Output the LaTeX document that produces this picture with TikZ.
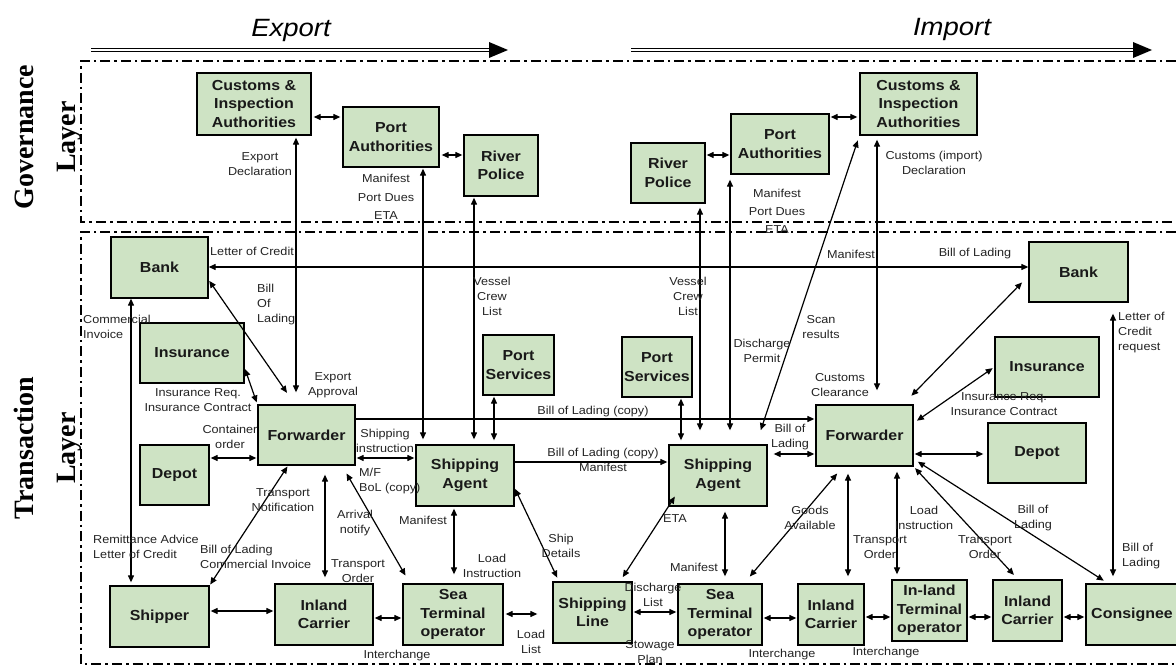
\documentclass[tikz,border=0pt]{standalone}
\usepackage{fontspec}
\newfontfamily\labfont{Liberation Sans}[FakeStretch=1.1]
\newfontfamily\serfont{Liberation Serif}
\usetikzlibrary{arrows.meta}
\definecolor{boxgreen}{RGB}{206,227,196}
\definecolor{labgray}{RGB}{35,35,35}
\begin{document}
\begin{tikzpicture}[x=1pt,y=-1pt,
  box/.style={draw=black, line width=1.3pt, fill=boxgreen, inner sep=0pt, align=center,
    font=\labfont\bfseries\fontsize{14.5}{18.5}\selectfont, text=black!90},
  lab/.style={inner sep=0pt, align=center, font=\labfont\fontsize{11.5}{15}\selectfont, text=labgray},
  labl/.style={lab, anchor=west, align=left},
  con/.style={line width=1.2pt, {Triangle[length=7pt,width=6pt]}-{Triangle[length=7pt,width=6pt]}},
  one/.style={line width=1.2pt, -{Triangle[length=7pt,width=6pt]}},
  frame/.style={line width=2.2pt, dash pattern=on 10pt off 4pt on 2.5pt off 4pt},
  title/.style={inner sep=0pt, font=\labfont\itshape\fontsize{25}{30}\selectfont},
  layer/.style={inner sep=0pt, rotate=90, align=center, font=\serfont\bfseries\fontsize{28}{42}\selectfont},
  flow/.style={line width=0.9pt, double distance=2.6pt, double=white},
]
\useasboundingbox (0,0) rectangle (1176,671);

% ---------- titles ----------
\node[title] (texp) at (291,30) {Export};
\node[title] (timp) at (952,29) {Import};
\coordinate (ea) at (91,50); \coordinate (eb) at (492,50);
\coordinate (ia) at (631,50); \coordinate (ib) at (1136,50);
\draw[flow] (ea) -- (eb);
\fill (489,42) -- (508,50) -- (489,58) -- cycle;
\draw[flow] (ia) -- (ib);
\fill (1133,42) -- (1152,50) -- (1133,58) -- cycle;

% ---------- frames ----------
\coordinate (f1) at (81,61); \coordinate (f2) at (1176,61);
\coordinate (f3) at (81,222); \coordinate (f4) at (1176,222);
\coordinate (f5) at (81,232); \coordinate (f6) at (1176,232);
\coordinate (f7) at (81,664); \coordinate (f8) at (1176,664);
\draw[frame] (f2) -- (f1) -- (f3) -- (f4);
\draw[frame] (f6) -- (f5) -- (f7) -- (f8);

\node[layer] (lgov) at (48,137) {Governance\\Layer};
\node[layer] (ltra) at (48,448) {Transaction\\Layer};

% ---------- governance boxes ----------
\node[box, minimum width=114pt, minimum height=62pt] (ce) at (254,104) {Customs \&\\Inspection\\Authorities};
\node[box, minimum width=96pt, minimum height=60pt] (pae) at (391,137) {Port\\Authorities};
\node[box, minimum width=74pt, minimum height=61pt] (rpe) at (501,165.5) {River\\Police};
\node[box, minimum width=74pt, minimum height=60pt] (rpi) at (668,173) {River\\Police};
\node[box, minimum width=98pt, minimum height=60pt] (pai) at (780,144) {Port\\Authorities};
\node[box, minimum width=117pt, minimum height=62pt] (ci) at (918.5,104) {Customs \&\\Inspection\\Authorities};

% ---------- transaction boxes ----------
\node[box, minimum width=97pt, minimum height=61pt] (be) at (159.5,267.5) {Bank};
\node[box, minimum width=104pt, minimum height=60pt] (ine) at (192,353) {Insurance};
\node[box, minimum width=97pt, minimum height=60pt] (fe) at (306.5,435) {Forwarder};
\node[box, minimum width=69pt, minimum height=60pt] (de) at (174.5,475) {Depot};
\node[box, minimum width=99pt, minimum height=61pt] (sh) at (159.5,616.5) {Shipper};
\node[box, minimum width=98pt, minimum height=61pt] (ice) at (324,614.5) {Inland\\Carrier};
\node[box, minimum width=100pt, minimum height=61pt] (ste) at (453,614.5) {Sea\\Terminal\\operator};
\node[box, minimum width=98pt, minimum height=61pt] (sae) at (465,475.5) {Shipping\\Agent};
\node[box, minimum width=71pt, minimum height=60pt] (pse) at (518.5,365) {Port\\Services};
\node[box, minimum width=79pt, minimum height=61pt] (sl) at (592.5,612.5) {Shipping\\Line};
\node[box, minimum width=70pt, minimum height=60pt] (psi) at (657,367) {Port\\Services};
\node[box, minimum width=98pt, minimum height=61pt] (sai) at (718,475.5) {Shipping\\Agent};
\node[box, minimum width=84pt, minimum height=61pt] (sti) at (720,614.5) {Sea\\Terminal\\operator};
\node[box, minimum width=97pt, minimum height=61pt] (fi) at (864.5,435.5) {Forwarder};
\node[box, minimum width=98pt, minimum height=60pt] (di) at (1037,453) {Depot};
\node[box, minimum width=104pt, minimum height=60pt] (ini) at (1047,367) {Insurance};
\node[box, minimum width=99pt, minimum height=60pt] (bi) at (1078.5,272) {Bank};
\node[box, minimum width=66pt, minimum height=61pt] (ici1) at (831,614.5) {Inland\\Carrier};
\node[box, minimum width=75pt, minimum height=61pt] (itm) at (929.5,610.5) {In-land\\Terminal\\operator};
\node[box, minimum width=69pt, minimum height=61pt] (ici2) at (1027.5,610.5) {Inland\\Carrier};
\node[box, minimum width=92pt, minimum height=61pt] (cn) at (1132,614.5) {Consignee};

% ---------- governance connectors ----------
\draw[con, shorten <=2pt, shorten >=2pt] (ce.east |- 0,117) -- (pae.west |- 0,117);
\draw[con, shorten <=2pt, shorten >=1pt] (pae.east |- 0,155) -- (rpe.west |- 0,155);
\draw[con, shorten <=1pt, shorten >=1pt] (rpi.east |- 0,155) -- (pai.west |- 0,155);
\draw[con, shorten <=1pt, shorten >=2pt] (pai.east |- 0,117) -- (ci.west |- 0,117);

% ---------- vertical cross-layer connectors ----------
\draw[con, shorten <=2pt, shorten >=12pt] (ce.south -| 296,0) -- (fe.north -| 296,0);
\draw[con, shorten <=1pt, shorten >=5pt] (pae.south -| 423,0) -- (sae.north -| 423,0);
\draw[con, shorten <=1pt, shorten >=5pt] (rpe.south -| 474,0) -- (sae.north -| 474,0);
\draw[con, shorten <=1pt, shorten >=4pt] (pse.south -| 494,0) -- (sae.north -| 494,0);
\draw[con, shorten <=4pt, shorten >=14pt] (rpi.south -| 700,0) -- (sai.north -| 700,0);
\draw[con, shorten <=5pt, shorten >=14pt] (pai.south -| 730,0) -- (sai.north -| 730,0);
\draw[con, shorten <=1pt, shorten >=4pt] (psi.south -| 681,0) -- (sai.north -| 681,0);
\draw[con, shorten <=5pt, shorten >=15pt] (ci.south west) -- (sai.north -| 756,0);
\draw[con, shorten <=4pt, shorten >=14pt] (ci.south -| 877,0) -- (fi.north -| 877,0);

% ---------- transaction connectors ----------
\draw[con] (be.east |- 0,267) -- (bi.west |- 0,267);
\draw[con, shorten <=1pt, shorten >=14pt] (be.east |- 0,280) -- (fe.north -| 295,0);
\draw[con, shorten <=1pt, shorten >=2pt] (ine.east |- 0,368) -- (fe.north west);
\draw[con, shorten <=0pt, shorten >=3pt] (be.south -| 131,0) -- (sh.north -| 131,0);
\draw[con, shorten <=1pt, shorten >=1pt] (de.east |- 0,458) -- (fe.west |- 0,458);
\draw[con, shorten <=1pt, shorten >=1pt] (fe.east |- 0,458) -- (sae.west |- 0,458);
\draw[one, shorten >=1pt] (fe.east |- 0,419) -- (fi.west |- 0,419);
\draw[one, shorten >=1pt] (sae.east |- 0,462) -- (sai.west |- 0,462);
\draw[con, shorten <=1pt, shorten >=1pt] (fe.south -| 288,0) -- (sh.north east);
\draw[con, shorten <=9pt, shorten >=6pt] (fe.south -| 325,0) -- (ice.north -| 325,0);
\draw[con, shorten <=9pt, shorten >=9pt] (fe.south -| 342,0) -- (ste.north -| 410,0);
\draw[con, shorten <=2pt, shorten >=9pt] (sae.south -| 454,0) -- (ste.north -| 454,0);
\draw[con, shorten <=1pt, shorten >=4pt] (sae.east |- 0,488) -- (sl.north -| 559,0);
\draw[con, shorten <=-12pt, shorten >=5pt] (sai.south west) -- (sl.north -| 620,0);
\draw[con, shorten <=5pt, shorten >=7pt] (sai.south -| 725,0) -- (sti.north -| 725,0);
\draw[con, shorten <=9pt, shorten >=9pt] (sti.north -| 744,0) -- (fi.south -| 843,0);
\draw[con, shorten <=7pt, shorten >=7pt] (fi.south -| 848,0) -- (ici1.north -| 848,0);
\draw[con, shorten <=5pt, shorten >=5pt] (fi.south -| 897,0) -- (itm.north -| 897,0);
\draw[con, shorten <=2pt, shorten >=6pt] (fi.south east) -- (ici2.north -| 1018,0);
\draw[con, shorten <=5pt, shorten >=5pt] (fi.east |- 0,459) -- (cn.north -| 1108,0);
\draw[con, shorten <=9pt, shorten >=12pt] (bi.west |- 0,276) -- (fi.north -| 903,0);
\draw[con, shorten <=2pt, shorten >=4pt] (ini.west |- 0,367) -- (fi.east |- 0,423);
\draw[con, shorten <=11pt, shorten >=7pt] (bi.south -| 1113,0) -- (cn.north -| 1113,0);
\draw[con, shorten <=6pt, shorten >=1pt] (sai.east |- 0,454) -- (fi.west |- 0,454);
\draw[con, shorten <=1pt, shorten >=4pt] (fi.east |- 0,454) -- (di.west |- 0,454);

% bottom chain
\draw[con, shorten <=1pt, shorten >=1pt] (sh.east |- 0,611) -- (ice.west |- 0,611);
\draw[con, shorten <=1pt, shorten >=1pt] (ice.east |- 0,618) -- (ste.west |- 0,618);
\draw[con, shorten <=2pt, shorten >=15pt] (ste.east |- 0,614) -- (sl.west |- 0,614);
\draw[con, shorten <=1pt, shorten >=1pt] (sl.east |- 0,612) -- (sti.west |- 0,612);
\draw[con, shorten <=1pt, shorten >=1pt] (sti.east |- 0,618) -- (ici1.west |- 0,618);
\draw[con, shorten <=1pt, shorten >=1pt] (ici1.east |- 0,617) -- (itm.west |- 0,617);
\draw[con, shorten <=1pt, shorten >=1pt] (itm.east |- 0,617) -- (ici2.west |- 0,617);
\draw[con, shorten <=1pt, shorten >=1pt] (ici2.east |- 0,617) -- (cn.west |- 0,617);

% ---------- labels ----------
\node[lab] (l1) at (260,164) {Export\\Declaration};
\node[lab, font=\labfont\fontsize{11.5}{18.5}\selectfont] (l2) at (386,197) {Manifest\\Port Dues\\ETA};
\node[lab, font=\labfont\fontsize{11.5}{18}\selectfont] (l3) at (777,211) {Manifest\\Port Dues\\ETA};
\node[lab] (l4) at (934,163) {Customs (import)\\Declaration};
\node[labl] (l5) at (210,251) {Letter of Credit};
\node[lab] (l6) at (851,254) {Manifest};
\node[lab] (l7) at (975,254) {Bill of Lading};
\node[labl] (l8) at (257,305) {Bill\\Of\\Lading};
\node[labl] (l9) at (83,327) {Commercial\\Invoice};
\node[lab] (l10) at (198,400) {Insurance Req.\\Insurance Contract};
\node[lab] (l11) at (333,385) {Export\\Approval};
\node[lab] (l12) at (230,437) {Container\\order};
\node[lab] (l13) at (385,441) {Shipping\\instruction};
\node[labl] (l14) at (359,481) {M/F\\BoL (copy)};
\node[lab] (l15) at (593,412) {Bill of Lading (copy)};
\node[lab] (l16) at (603,460) {Bill of Lading (copy)\\Manifest};
\node[lab] (l17) at (492,296) {Vessel\\Crew\\List};
\node[lab] (l18) at (688,296) {Vessel\\Crew\\List};
\node[lab] (l19) at (762,351) {Discharge\\Permit};
\node[lab] (l20) at (821,327) {Scan\\results};
\node[lab] (l21) at (840,385) {Customs\\Clearance};
\node[lab] (l22) at (790,437) {Bill of\\Lading};
\node[lab] (l23) at (1004,404) {Insurance Req.\\Insurance Contract};
\node[labl] (l24) at (1118,333) {Letter of\\Credit\\request};
\node[lab] (l25) at (283,500) {Transport\\Notification};
\node[labl] (l26) at (93,547) {Remittance Advice\\Letter of Credit};
\node[labl] (l27) at (200,557) {Bill of Lading\\Commercial Invoice};
\node[lab] (l28) at (355,523) {Arrival\\notify};
\node[lab] (l29) at (358,571) {Transport\\Order};
\node[lab] (l30) at (423,520) {Manifest};
\node[lab] (l31) at (492,566) {Load\\Instruction};
\node[lab] (l32) at (561,546) {Ship\\Details};
\node[lab] (l33) at (675,519) {ETA};
\node[lab] (l34) at (694,567) {Manifest};
\node[lab] (l35) at (810,518) {Goods\\Available};
\node[lab] (l36) at (880,547) {Transport\\Order};
\node[lab] (l37) at (924,518) {Load\\Instruction};
\node[lab] (l38) at (985,547) {Transport\\Order};
\node[lab] (l39) at (1033,518) {Bill of\\Lading};
\node[labl] (l40) at (1122,556) {Bill of\\Lading};
\node[lab] (l41) at (397,656) {Interchange};
\node[lab] (l42) at (531,642) {Load\\List};
\node[lab] (l43) at (653,595) {Discharge\\List};
\node[lab] (l44) at (650,652) {Stowage\\Plan};
\node[lab] (l45) at (782,655) {Interchange};
\node[lab] (l46) at (886,653) {Interchange};
\end{tikzpicture}
\end{document}
